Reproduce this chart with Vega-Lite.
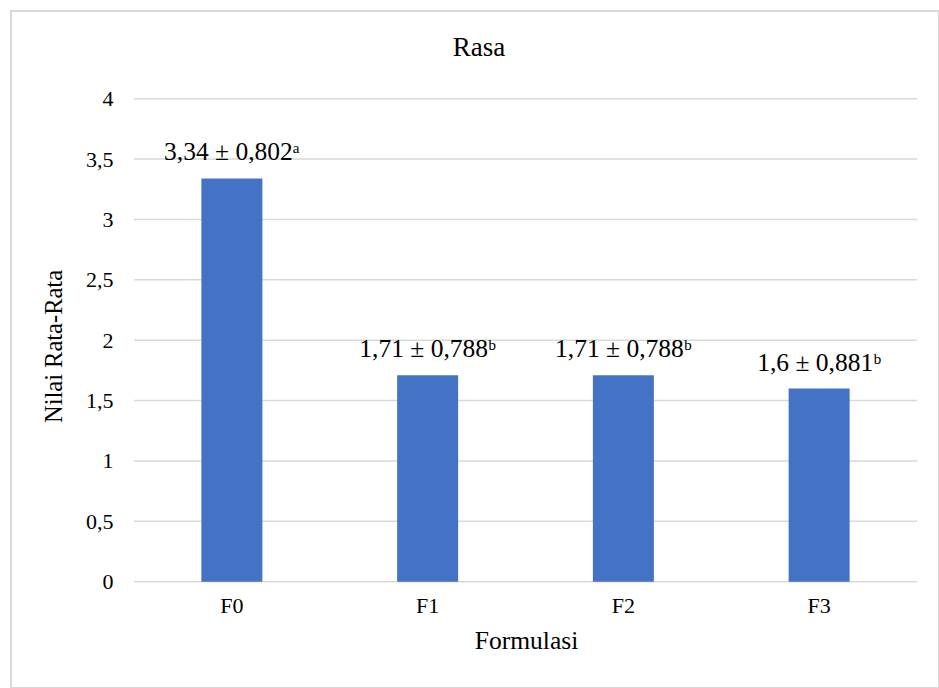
{
  "$schema": "https://vega.github.io/schema/vega-lite/v6.json",
  "width": 928,
  "height": 677,
  "autosize": {"type": "none"},
  "padding": {"left": 11, "top": 11, "right": 0, "bottom": 0},
  "background": "white",
  "config": {
    "view": {"stroke": "#d9d9d9", "strokeWidth": 2},
    "font": "Liberation Serif"
  },
  "title": {
    "text": "Rasa",
    "font": "Liberation Serif",
    "fontSize": 27,
    "fontWeight": "normal",
    "color": "#000000",
    "anchor": "middle",
    "frame": "group",
    "offset": -51,
    "dx": 4
  },
  "datasets": {
    "nilai": [
      {"formulasi": "F0", "rata": 3.34, "sd": 0.802, "notasi": "a", "label": "3,34 ± 0,802ᵃ"},
      {"formulasi": "F1", "rata": 1.71, "sd": 0.788, "notasi": "b", "label": "1,71 ± 0,788ᵇ"},
      {"formulasi": "F2", "rata": 1.71, "sd": 0.788, "notasi": "b", "label": "1,71 ± 0,788ᵇ"},
      {"formulasi": "F3", "rata": 1.6, "sd": 0.881, "notasi": "b", "label": "1,6 ± 0,881ᵇ"}
    ],
    "grid": [
      {"g": 0}, {"g": 0.5}, {"g": 1}, {"g": 1.5}, {"g": 2},
      {"g": 2.5}, {"g": 3}, {"g": 3.5}, {"g": 4}
    ]
  },
  "layer": [
    {
      "data": {"name": "grid"},
      "mark": {"type": "rule", "color": "#d9d9d9", "strokeWidth": 1.5},
      "encoding": {
        "x": {
          "datum": "F0",
          "type": "nominal",
          "bandPosition": 0,
          "title": "Formulasi",
          "scale": {
            "type": "band",
            "domain": ["F0", "F1", "F2", "F3"],
            "paddingInner": 0,
            "paddingOuter": 0.3704,
            "align": 0.8483
          },
          "axis": {
            "offset": -106.3,
            "domain": false,
            "ticks": false,
            "grid": false,
            "labelAngle": 0,
            "labelPadding": 14,
            "labelFont": "Liberation Serif",
            "labelFontSize": 22,
            "labelColor": "#000000",
            "titleFont": "Liberation Serif",
            "titleFontSize": 25.5,
            "titleFontWeight": "normal",
            "titleColor": "#000000",
            "titlePadding": 12,
            "titleX": 515
          }
        },
        "x2": {"datum": "F3", "bandPosition": 1},
        "y": {
          "field": "g",
          "type": "quantitative",
          "title": "Nilai Rata-Rata",
          "scale": {"domain": [-0.8803, 4.7263], "nice": false, "zero": false},
          "axis": {
            "offset": -123,
            "domain": false,
            "ticks": false,
            "grid": false,
            "values": [0, 0.5, 1, 1.5, 2, 2.5, 3, 3.5, 4],
            "format": "~g",
            "labelExpr": "replace(datum.label, '.', ',')",
            "labelPadding": 21,
            "labelFont": "Liberation Serif",
            "labelFontSize": 22,
            "labelColor": "#000000",
            "titleFont": "Liberation Serif",
            "titleFontSize": 24.5,
            "titleFontWeight": "normal",
            "titleColor": "#000000",
            "titlePadding": 19,
            "titleY": 335
          }
        }
      }
    },
    {
      "data": {"name": "nilai"},
      "mark": {"type": "bar", "color": "#4472C4", "size": 61},
      "encoding": {
        "x": {"field": "formulasi", "type": "nominal", "title": "Formulasi"},
        "y": {"field": "rata", "type": "quantitative", "title": "Nilai Rata-Rata"},
        "y2": {"datum": 0}
      }
    },
    {
      "data": {"name": "nilai"},
      "mark": {
        "type": "text",
        "font": "Liberation Serif",
        "fontSize": 25.5,
        "color": "#000000",
        "baseline": "alphabetic",
        "align": "center",
        "dy": -18
      },
      "encoding": {
        "x": {"field": "formulasi", "type": "nominal", "title": "Formulasi"},
        "y": {"field": "rata", "type": "quantitative", "title": "Nilai Rata-Rata"},
        "text": {"field": "label"}
      }
    }
  ]
}
